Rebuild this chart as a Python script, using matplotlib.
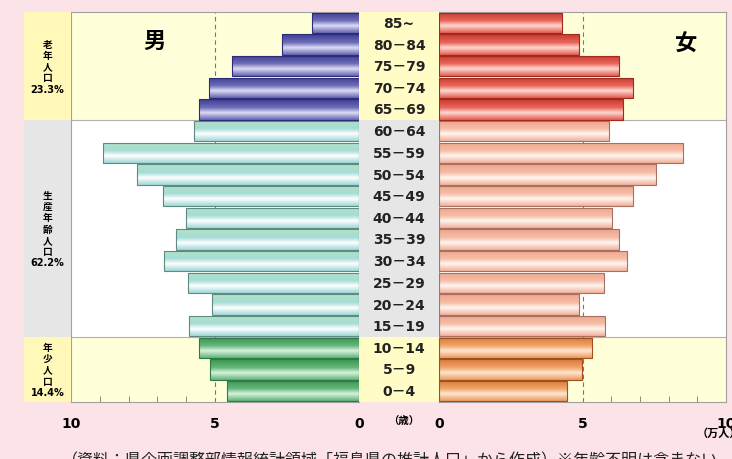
import numpy as np
import matplotlib
matplotlib.use("Agg")
import matplotlib.pyplot as plt
from matplotlib.colors import LinearSegmentedColormap

plt.rcParams['font.family'] = ['DejaVu Sans', 'Noto Sans CJK JP']

# 年齢階級（下から 0-4 … 85~）
ages = ["0−4", "5−9", "10−14", "15−19", "20−24", "25−29", "30−34", "35−39",
        "40−44", "45−49", "50−54", "55−59", "60−64", "65−69", "70−74",
        "75−79", "80−84", "85~"]
# 人口（万人）
male = [4.57, 5.18, 5.56, 5.89, 5.12, 5.93, 6.78, 6.35, 6.01, 6.81,
        7.72, 8.90, 5.72, 5.54, 5.21, 4.40, 2.68, 1.62]
female = [4.45, 4.99, 5.34, 5.77, 4.88, 5.74, 6.54, 6.27, 6.04, 6.77,
          7.57, 8.51, 5.91, 6.40, 6.77, 6.26, 4.88, 4.27]
groups = ["年少人口", "生産年齢人口", "老年人口"]
group_share = [14.4, 62.2, 23.3]
group_rows = [(0, 2), (3, 12), (13, 17)]
note = "（資料：県企画調整部情報統計領域「福島県の推計人口」から作成）※年齢不明は含まない"

W, H = 732, 460
PINK = "#fbe3e7"
PANEL_YEL = "#ffffd9"
COL_YEL = "#fff8b8"
MID_YEL = "#fffcc6"
GREY = "#e6e6e6"

# (edge, top, highlight, body, bottom) per group
male_styles = [
    ("#2f7a45", "#5eb374", "#d8f2de", "#62b678", "#3d9354"),
    ("#5f8a84", "#9ed8d6", "#ffffff", "#a6dcd6", "#b2e4c4"),
    ("#2c2c78", "#6262b0", "#dcdcf4", "#6c6cb8", "#3e3e92"),
]
female_styles = [
    ("#a0501e", "#ec9a5c", "#ffe6d0", "#f0a466", "#d8783a"),
    ("#a87060", "#f2b09a", "#fff6f0", "#f6bca6", "#eea68c"),
    ("#a02a1c", "#e45a50", "#ffd8d0", "#e8645a", "#c83a2e"),
]


def px(x, y, w, h):
    return [x / W, 1 - (y + h) / H, w / W, h / H]


def group_of(i):
    for g, (a, b) in enumerate(group_rows):
        if a <= i <= b:
            return g
    return 0


def gradient_bars(ax, values, styles):
    n = len(values)
    bars = ax.barh(np.arange(n), values, height=0.94, color="none",
                   linewidth=0.8, zorder=3)
    grad = np.linspace(0, 1, 64).reshape(-1, 1)
    for i, bar in enumerate(bars):
        edge, top, hi, body, bottom = styles[group_of(i)]
        cmap = LinearSegmentedColormap.from_list(
            "bar", [(0, top), (0.35, hi), (0.6, body), (1, bottom)])
        bar.set_edgecolor(edge)
        x0, y0 = bar.get_x(), bar.get_y()
        img = ax.imshow(grad, extent=[x0, x0 + bar.get_width(),
                                      y0 + bar.get_height(), y0],
                        cmap=cmap, aspect="auto", zorder=2,
                        interpolation="bilinear")
        img.set_clip_path(bar)


def style_panel(ax, values, styles, xlim, ticklabels):
    n = len(values)
    ax.set_facecolor("white")
    for g, (a, b) in enumerate(group_rows):
        if g != 1:
            ax.axhspan(a - 0.5, b + 0.5, color=PANEL_YEL, zorder=0, lw=0)
    for yb in (2.5, 12.5):
        ax.axhline(yb, color="#b0b0b0", lw=0.8, zorder=1)
    ax.axvline(5, color="#777777", lw=0.8, ls=(0, (4, 3)), zorder=1)
    gradient_bars(ax, values, styles)
    ax.set_xlim(*xlim)
    ax.set_ylim(-0.5, n - 0.5)
    ax.set_yticks([])
    ax.set_xticks([0, 5, 10])
    ax.set_xticklabels(ticklabels, fontsize=10, fontweight="bold")
    ax.set_xticks(np.arange(0, 11), minor=True)
    ax.tick_params(axis="x", which="major", length=0, pad=10)
    ax.tick_params(axis="x", which="minor", direction="in", length=4,
                   color="#777777")
    for s in ax.spines.values():
        s.set_color("#a0a0a0")
        s.set_linewidth(0.8)


fig = plt.figure(figsize=(W / 100, H / 100), dpi=100, facecolor=PINK)

ax_l = fig.add_axes(px(71, 13, 288, 390))
style_panel(ax_l, male, male_styles, (10, 0), ["0", "5", "10"])
ax_l.text(0.29, 0.925, "男", transform=ax_l.transAxes, fontsize=16,
          fontweight="bold", ha="center", va="center")

ax_r = fig.add_axes(px(439, 13, 287, 390))
style_panel(ax_r, female, female_styles, (0, 10), ["0", "5", "10"])
ax_r.text(0.86, 0.92, "女", transform=ax_r.transAxes, fontsize=16,
          fontweight="bold", ha="center", va="center")

# 年齢階級の列
ax_m = fig.add_axes(px(359, 13, 80, 390))
for g, (a, b) in enumerate(group_rows):
    ax_m.axhspan(a - 0.5, b + 0.5, color=GREY if g == 1 else MID_YEL, lw=0)
for i, lab in enumerate(ages):
    ax_m.text(0.5, i, lab.replace("−", "－"), ha="center", va="center",
              fontsize=10, fontweight="bold", color="#222222")
ax_m.set_xlim(0, 1)
ax_m.set_ylim(-0.5, len(ages) - 0.5)
ax_m.axis("off")

# 年齢3区分の列
ax_g = fig.add_axes(px(24, 13, 47, 390))
for g, (a, b) in enumerate(group_rows):
    ax_g.axhspan(a - 0.5, b + 0.5, color=GREY if g == 1 else COL_YEL, lw=0)
    label = "\n".join(groups[g]) + f"\n{group_share[g]:.1f}%"
    ax_g.text(0.5, (a + b) / 2, label, ha="center", va="center",
              fontsize=7, fontweight="bold", linespacing=1.15)
ax_g.set_xlim(0, 1)
ax_g.set_ylim(-0.5, len(ages) - 0.5)
ax_g.axis("off")

fig.text(404 / W, 1 - 421 / H, "（歳）", ha="center", va="center",
         fontsize=7.5, fontweight="bold")
fig.text(697 / W, 1 - 434 / H, "（万人）", ha="left", va="center",
         fontsize=8, fontweight="bold")
fig.text(62 / W, 1 - 452 / H, note, ha="left", va="top", fontsize=11.5,
         color="#222222", family=["Noto Sans CJK JP", "DejaVu Sans"])

fig.savefig("out.png", dpi=100, facecolor=PINK)
